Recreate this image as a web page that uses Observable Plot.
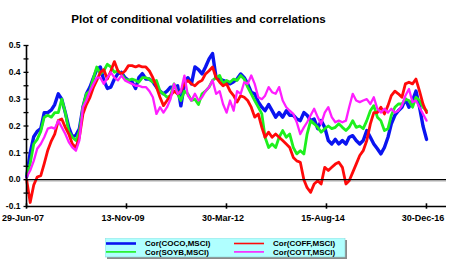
<!DOCTYPE html>
<html><head><meta charset="utf-8">
<script src="https://cdn.jsdelivr.net/npm/d3@7"></script>
<script src="https://cdn.jsdelivr.net/npm/@observablehq/plot@0.6"></script>
<style>
body{margin:0;background:#fff;font-family:"Liberation Sans",Arial,sans-serif;}
#wrap{position:relative;width:462px;height:274px;overflow:hidden;}
#chart{position:absolute;left:0;top:0;}
#title{position:absolute;left:0;top:11px;width:397px;text-align:center;font-weight:bold;font-size:11.6px;line-height:15px;color:#000;}
#legend{position:absolute;left:105px;top:238px;}
</style></head><body>
<div id="wrap"><div id="chart"></div><div id="title">Plot of conditional volatilities and correlations</div><div id="legend"></div></div>
<script>
// Month of each observation (plotted at month end)
const months = [
 "2007-06","2007-07","2007-08","2007-09","2007-10","2007-11","2007-12",
 "2008-01","2008-02","2008-03","2008-04","2008-05","2008-06","2008-07","2008-08","2008-09","2008-10","2008-11","2008-12",
 "2009-01","2009-02","2009-03","2009-04","2009-05","2009-06","2009-07","2009-08","2009-09","2009-10","2009-11","2009-12",
 "2010-01","2010-02","2010-03","2010-04","2010-05","2010-06","2010-07","2010-08","2010-09","2010-10","2010-11","2010-12",
 "2011-01","2011-02","2011-03","2011-04","2011-05","2011-06","2011-07","2011-08","2011-09","2011-10","2011-11","2011-12",
 "2012-01","2012-02","2012-03","2012-04","2012-05","2012-06","2012-07","2012-08","2012-09","2012-10","2012-11","2012-12",
 "2013-01","2013-02","2013-03","2013-04","2013-05","2013-06","2013-07","2013-08","2013-09","2013-10","2013-11","2013-12",
 "2014-01","2014-02","2014-03","2014-04","2014-05","2014-06","2014-07","2014-08","2014-09","2014-10","2014-11","2014-12",
 "2015-01","2015-02","2015-03","2015-04","2015-05","2015-06","2015-07","2015-08","2015-09","2015-10","2015-11","2015-12",
 "2016-01","2016-02","2016-03","2016-04","2016-05","2016-06","2016-07","2016-08","2016-09","2016-10","2016-11","2016-12"
];
const seriesNames = ["Cor(COCO,MSCI)","Cor(COFF,MSCI)","Cor(SOYB,MSCI)","Cor(COTT,MSCI)"];
const coco = [
 0.01,0.10,0.16,0.18,0.19,0.25,0.25,0.26,0.28,0.32,
 0.30,0.25,0.195,0.16,0.165,0.19,0.27,0.32,0.345,0.38,
 0.41,0.42,0.37,0.34,0.345,0.375,0.395,0.40,0.38,0.37,
 0.365,0.34,0.38,0.395,0.375,0.375,0.365,0.345,0.33,0.32,
 0.33,0.345,0.345,0.35,0.275,0.357,0.38,0.357,0.42,0.41,
 0.394,0.42,0.45,0.47,0.38,0.375,0.37,0.365,0.357,0.365,
 0.375,0.394,0.38,0.357,0.326,0.32,0.29,0.27,0.257,0.28,
 0.257,0.233,0.25,0.233,0.257,0.24,0.24,0.226,0.22,0.25,
 0.24,0.22,0.226,0.19,0.22,0.195,0.146,0.133,0.15,0.133,
 0.146,0.133,0.158,0.164,0.146,0.133,0.146,0.183,0.158,0.133,
 0.115,0.096,0.12,0.158,0.208,0.24,0.257,0.27,0.30,0.27,
 0.295,0.33,0.27,0.20,0.15
];
const coff = [
 0.0,-0.085,-0.02,0.01,0.015,0.06,0.11,0.145,0.17,0.22,
 0.226,0.195,0.17,0.133,0.12,0.158,0.245,0.28,0.307,0.345,
 0.37,0.40,0.41,0.375,0.405,0.44,0.405,0.394,0.405,0.425,
 0.425,0.42,0.425,0.42,0.42,0.405,0.38,0.345,0.307,0.276,
 0.295,0.313,0.33,0.32,0.33,0.357,0.37,0.357,0.35,0.363,
 0.37,0.394,0.406,0.42,0.38,0.363,0.35,0.357,0.33,0.313,
 0.289,0.313,0.307,0.295,0.27,0.233,0.245,0.195,0.158,0.177,
 0.158,0.17,0.158,0.146,0.133,0.12,0.083,0.07,0.065,0.0,
 -0.03,-0.047,-0.016,-0.004,-0.016,0.046,0.034,0.046,0.058,0.065,
 0.046,-0.016,-0.004,0.027,0.058,0.09,0.108,0.146,0.208,0.25,
 0.25,0.27,0.245,0.276,0.313,0.33,0.32,0.307,0.357,0.363,
 0.357,0.375,0.33,0.282,0.25
];
const soyb = [
 0.02,0.06,0.133,0.15,0.18,0.233,0.24,0.233,0.25,0.25,
 0.30,0.25,0.18,0.158,0.146,0.18,0.27,0.32,0.33,0.38,
 0.42,0.394,0.406,0.43,0.42,0.40,0.406,0.394,0.375,0.37,
 0.375,0.37,0.363,0.38,0.38,0.375,0.363,0.37,0.33,0.32,
 0.307,0.313,0.357,0.32,0.295,0.33,0.32,0.295,0.30,0.28,
 0.32,0.33,0.345,0.37,0.38,0.388,0.357,0.37,0.363,0.375,
 0.37,0.388,0.375,0.345,0.32,0.295,0.27,0.245,0.158,0.12,
 0.133,0.12,0.158,0.183,0.158,0.17,0.12,0.096,0.108,0.096,
 0.17,0.22,0.208,0.195,0.177,0.19,0.20,0.19,0.195,0.208,
 0.195,0.183,0.195,0.22,0.195,0.20,0.19,0.22,0.257,0.276,
 0.233,0.22,0.183,0.19,0.24,0.27,0.282,0.282,0.30,0.295,
 0.27,0.307,0.295,0.27,0.257
];
const cott = [
 0.01,0.034,0.07,0.115,0.133,0.158,0.19,0.195,0.19,0.22,
 0.195,0.17,0.14,0.12,0.108,0.146,0.27,0.295,0.33,0.357,
 0.38,0.38,0.357,0.38,0.40,0.38,0.37,0.388,0.37,0.363,
 0.357,0.35,0.35,0.345,0.345,0.33,0.307,0.245,0.27,0.25,
 0.27,0.30,0.357,0.32,0.33,0.388,0.313,0.295,0.32,0.295,
 0.307,0.33,0.345,0.37,0.32,0.33,0.282,0.25,0.295,0.257,
 0.33,0.32,0.363,0.357,0.388,0.357,0.307,0.30,0.313,0.345,
 0.326,0.32,0.345,0.295,0.27,0.257,0.245,0.214,0.17,0.195,
 0.214,0.24,0.264,0.233,0.208,0.25,0.27,0.233,0.214,0.22,
 0.214,0.22,0.27,0.32,0.295,0.289,0.295,0.30,0.282,0.307,
 0.264,0.25,0.264,0.25,0.264,0.25,0.257,0.276,0.313,0.338,
 0.289,0.295,0.27,0.245,0.22
];
const xTickDates = ["2007-06-29","2009-11-13","2012-03-30","2014-08-15","2016-12-30"];
const yLabelTicks = [-0.1,0.0,0.1,0.2,0.3,0.4,0.5];
const yMinorTicks = [-0.05,0.05,0.15,0.25,0.35,0.45];
const xStart = "2007-06-29", xEnd = "2017-06-22";

const colors = ["#0a14f0","#ff0a0a","#1ef01e","#ff1eff"];
const widths = [3.4, 2.8, 2.8, 2.3];
const legendWidths = [2.6, 1.6, 1.6, 1.6];
const values = [coco, coff, soyb, cott];

const parseM = d3.utcParse("%Y-%m");
const parseD = d3.utcParse("%Y-%m-%d");
const dates = months.map(m => d3.utcDay.offset(d3.utcMonth.offset(parseM(m), 1), -1));
const series = values.map((vals, k) => vals.map((v, i) => ({date: dates[i], value: v, name: seriesNames[k]})));
const xDomain = [parseD(xStart), parseD(xEnd)];
const xTicks = xTickDates.map(parseD);
const fmt = d3.utcFormat("%d-%b-%y");
const font = "'Liberation Sans', Arial, sans-serif";

// draw order: COCO, SOYB, COFF, COTT
const order = [0, 2, 1, 3];

const chart = Plot.plot({
  width: 462, height: 274,
  marginLeft: 26, marginRight: 16, marginTop: 45, marginBottom: 68,
  x: {type: "utc", domain: xDomain, axis: null},
  y: {domain: [-0.1, 0.5], axis: null},
  style: {fontFamily: font, background: "transparent", color: "#000", overflow: "visible"},
  marks: [
    Plot.ruleY([0], {stroke: "#c8c8c8", strokeWidth: 1.2, dy: 1.5}),
    ...order.map(k => Plot.line(series[k], {x: "date", y: "value", stroke: colors[k], strokeWidth: widths[k], strokeLinejoin: "round", strokeLinecap: "round"})),
    Plot.ruleY([0], {stroke: "#000", strokeWidth: 1.3}),
    Plot.ruleX([xDomain[0]], {stroke: "#000", strokeWidth: 1.6}),
    Plot.ruleY([-0.1], {stroke: "#000", strokeWidth: 1.6}),
    Plot.ruleY([...yLabelTicks, ...yMinorTicks], {y: d => d, x1: () => xDomain[0], x2: () => xDomain[0], insetLeft: -2.5, insetRight: -2.5, stroke: "#000", strokeWidth: 1.3}),
    Plot.ruleX(xTicks, {x: d => d, y1: () => -0.1, y2: () => -0.1, insetTop: -2.7, insetBottom: -2.7, stroke: "#000", strokeWidth: 1.6}),
    Plot.text(yLabelTicks, {x: () => xDomain[0], y: d => d, text: d => d.toFixed(1), textAnchor: "end", dx: -6, fontWeight: "bold", fontSize: 8.5}),
    Plot.text(xTicks, {x: d => d, y: () => -0.1, text: d => fmt(d), dx: -3.5, dy: 12, fontWeight: "bold", fontSize: 9})
  ]
});
document.getElementById("chart").append(chart);

// Legend
const svg = d3.create("svg").attr("width", 244).attr("height", 22).style("font-family", font);
svg.append("rect").attr("x", 2).attr("y", 2).attr("width", 240).attr("height", 19).attr("fill", "#8a8a8a");
svg.append("rect").attr("x", 0).attr("y", 0).attr("width", 240).attr("height", 19).attr("fill", "#b0ffff").attr("stroke", "#8fd0d0").attr("stroke-width", 0.6);
const legendPos = [[0,0],[1,0],[0,1],[1,1]];
seriesNames.forEach((name, k) => {
  const [c, r] = legendPos[k];
  const x0 = 1 + c * 128, y0 = 5.5 + r * 8.4;
  svg.append("line").attr("x1", x0).attr("x2", x0 + 30).attr("y1", y0).attr("y2", y0).attr("stroke", colors[k]).attr("stroke-width", legendWidths[k]);
  svg.append("text").attr("x", x0 + 39).attr("y", y0).attr("dy", "0.35em").attr("font-size", 8).attr("font-weight", "bold").text(name);
});
document.getElementById("legend").append(svg.node());
</script>
</body></html>
